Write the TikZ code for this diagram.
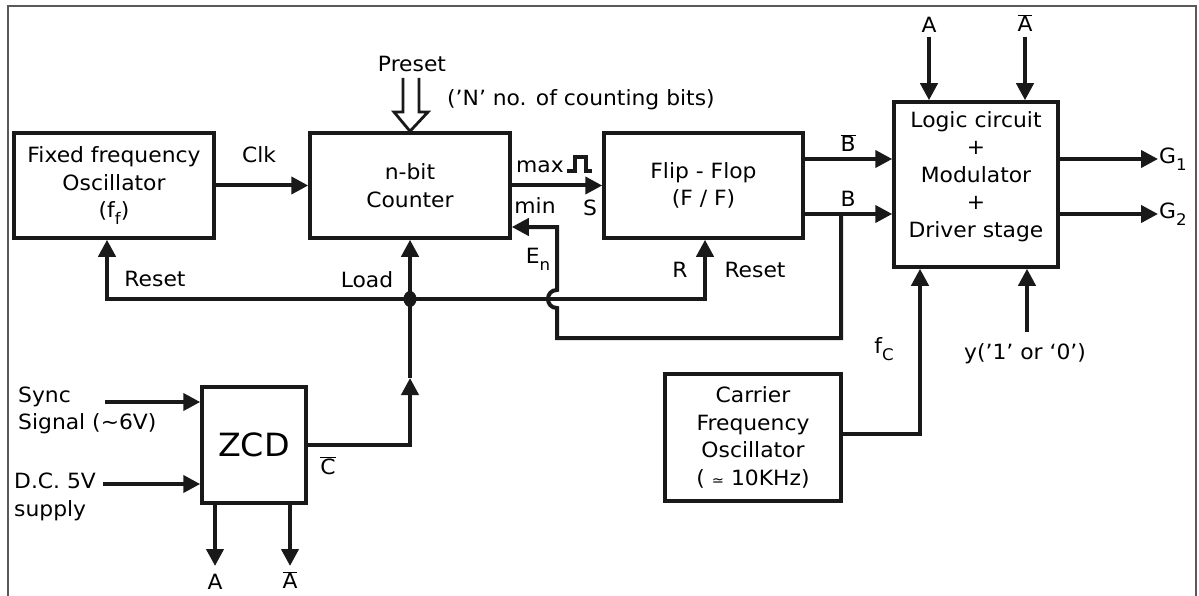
\documentclass[tikz,border=0pt]{standalone}
\usepackage{fontspec}
\setmainfont[FakeStretch=1.04]{DejaVu Sans}
\usetikzlibrary{arrows.meta}
\newcommand{\ovl}[1]{$\overline{\mbox{#1}}$}
\newcommand{\subx}[1]{\raisebox{-0.32em}{\fontsize{16}{16}\selectfont #1}}
\tikzset{
  blk/.style={draw=black!90, line width=3.5pt, inner sep=0pt, align=center},
  conn/.style={line width=4pt, draw=black!90, -{Triangle[length=17pt,width=17pt]}},
  lbl/.style={inner sep=1pt},
}
\begin{document}
\begin{tikzpicture}[x=1pt,y=-1pt, font=\fontsize{21}{27.5}\selectfont]
\useasboundingbox (0,0) rectangle (1199,596);
% frame
\draw[line width=1.3pt, black!65] (8,6) rectangle (1196,620);

% blocks
\node[blk, minimum width=200pt, minimum height=105pt] (osc) at (114,185.5) {Fixed frequency\\Oscillator\\(f\subx{f})};
\node[blk, minimum width=200pt, minimum height=105pt] (cnt) at (410,185.5) {n-bit\\Counter};
\node[blk, minimum width=199pt, minimum height=105pt] (ff) at (703.5,185.5) {Flip - Flop\\(F / F)};
\node[blk, minimum width=164pt, minimum height=165pt] (logic) at (976,184.5) {};
\node[lbl, anchor=north, align=center] (logictxt) at (976,110) {Logic circuit\\+\\Modulator\\+\\Driver stage};
\node[blk, minimum width=104pt, minimum height=116pt, font=\fontsize{32}{36}\selectfont] (zcd) at (254,445) {ZCD};
\node[blk, minimum width=176pt, minimum height=127pt] (car) at (753,437.5) {Carrier\\Frequency\\Oscillator\\( {\fontsize{14}{14}\selectfont ≃} 10KHz)};

% preset hollow arrow
\node[lbl] (preset) at (412,64) {Preset};
\draw[line width=2.8pt, black!90, line join=miter] (403,78) -- (403,112) -- (394,112) -- (cnt.north) -- (428,112) -- (419,112) -- (419,78);
\node[lbl, anchor=west] (nbits) at (446,100) {(’N’ no. of counting bits)};

% Clk
\draw[conn] (osc.east) -- (cnt.west);
\node[lbl] (clk) at (259,155) {Clk};

% max -> S
\draw[conn] (cnt.east) -- (ff.west);
\node[lbl] (max) at (540,167) {max};
\draw[line width=3.5pt, black!90] (567,171) -- (575,171) -- (575,157) -- (586,157) -- (586,171) -- (592,171);
\node[lbl] (minl) at (535,206) {min};
\node[lbl] (sl) at (590,208) {S};

% B bar and B
\coordinate (bb) at (803,159);
\coordinate (bj) at (841,214);
\draw[conn] (ff.east |- bb) -- (logic.west |- bb);
\draw[conn] (ff.east |- bj) -- (logic.west |- bj);
\node[lbl] (bbl) at (848,143) {\ovl{B}};
\node[lbl] (bl) at (848,199) {B};

% En loop with jump
\coordinate (e1) at (841,338);
\coordinate (e2) at (557,338);
\coordinate (e3) at (557,308);
\coordinate (e4) at (557,290);
\coordinate (e5) at (557,227);
\draw[conn] (bj) -- (e1) -- (e2) -- (e3) .. controls (545,308) and (545,290) .. (e4) -- (e5) -- (cnt.east |- e5);
\node[lbl] (en) at (538,259) {E\subx{n}};

% Reset lines
\coordinate (ldot) at (410,299);
\coordinate (r1) at (107,299);
\coordinate (r2) at (705,299);
\draw[conn] (ldot) -- (r1) -- (r1 |- osc.south);
\draw[conn] (ldot) -- (r2) -- (r2 |- ff.south);
\fill[black!90] (ldot) ellipse (6.5pt and 8pt);
\node[lbl] (rst1) at (155,279) {Reset};
\node[lbl] (load) at (367,280) {Load};
\node[lbl] (rl) at (680,270) {R};
\node[lbl] (rst2) at (755,270) {Reset};

% ZCD output / Load
\coordinate (lm) at (410,378);
\draw[conn] (zcd.east) -| (lm);
\draw[conn] (lm) -- (cnt.south);
\node[lbl] (cb) at (328,466) {\ovl{C}};

% ZCD inputs
\node[lbl, anchor=west, align=left] (sync) at (17,410.5) {Sync\\Signal (\textasciitilde6V)};
\coordinate (s0) at (105,402);
\draw[conn] (s0) -- (zcd.west |- s0);
\node[lbl, anchor=west, align=left] (dc) at (13,497) {D.C. 5V\\supply};
\coordinate (d0) at (103,484);
\draw[conn] (d0) -- (zcd.west |- d0);

% ZCD outputs
\node[lbl] (za) at (215,582) {A};
\node[lbl] (zab) at (290,580) {\ovl{A}};
\coordinate (za0) at (215,566);
\coordinate (zb0) at (290,566);
\draw[conn] (zcd.south -| za0) -- (za0);
\draw[conn] (zcd.south -| zb0) -- (zb0);

% logic top inputs
\node[lbl] (ta) at (929,25) {A};
\node[lbl] (tab) at (1025,23) {\ovl{A}};
\coordinate (ta0) at (929,37);
\coordinate (tb0) at (1025,37);
\draw[conn] (ta0) -- (ta0 |- logic.north);
\draw[conn] (tb0) -- (tb0 |- logic.north);

% outputs
\node[lbl, anchor=west] (g1) at (1158,159) {G\subx{1}};
\node[lbl, anchor=west] (g2) at (1158,214) {G\subx{2}};
\draw[conn] (logic.east |- bb) -- (g1.west |- bb);
\draw[conn] (logic.east |- bj) -- (g2.west |- bj);

% carrier -> logic
\coordinate (fc) at (920,434);
\draw[conn] (car.east |- fc) -- (fc) -- (fc |- logic.south);
\node[lbl] (fcl) at (884,349) {f\subx{C}};

% y input
\coordinate (y0) at (1027,332);
\draw[conn] (y0) -- (y0 |- logic.south);
\node[lbl] (yl) at (1025,354) {y(’1’ or ‘0’)};
\end{tikzpicture}
\end{document}
